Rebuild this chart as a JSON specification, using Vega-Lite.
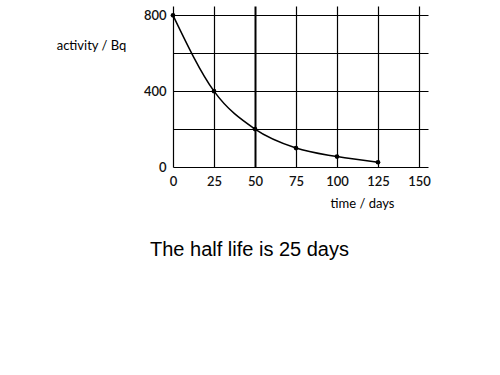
{
  "$schema": "https://vega.github.io/schema/vega-lite/v6.json",
  "width": 255,
  "height": 161,
  "autosize": "none",
  "padding": {"left": 173, "top": 6, "right": 72, "bottom": 208},
  "background": "white",
  "title": {
    "text": "The half life is 25 days",
    "orient": "bottom",
    "anchor": "middle",
    "dx": -51,
    "offset": 30,
    "font": "Liberation Sans",
    "fontSize": 20,
    "fontWeight": "normal",
    "color": "#000000"
  },
  "data": {
    "values": [
      {"time": 0, "activity": 800},
      {"time": 25, "activity": 400},
      {"time": 50, "activity": 200},
      {"time": 75, "activity": 100},
      {"time": 100, "activity": 55},
      {"time": 125, "activity": 25}
    ]
  },
  "config": {
    "view": {"stroke": null},
    "axis": {"labelFont": "Lato", "titleFont": "Lato"}
  },
  "encoding": {
    "x": {
      "field": "time",
      "type": "quantitative",
      "scale": {"domain": [0, 155.5], "nice": false, "zero": false},
      "axis": {
        "values": [0, 25, 50, 75, 100, 125, 150],
        "grid": true,
        "gridColor": "#000000",
        "gridOpacity": 1,
        "gridWidth": {"condition": {"test": "datum.value == 50", "value": 2}, "value": 1.2},
        "domain": false,
        "ticks": false,
        "labelPadding": 8,
        "labelFontSize": 13,
        "labelFontWeight": 600,
        "labelColor": "#111111",
        "labelFlush": false,
        "title": "time / days",
        "titleFontSize": 13,
        "titleFontWeight": "normal",
        "titleColor": "#000000",
        "titleX": 189,
        "titleY": 36,
        "titleAlign": "center",
        "titleBaseline": "middle"
      }
    },
    "y": {
      "field": "activity",
      "type": "quantitative",
      "scale": {"domain": [0, 849], "nice": false},
      "axis": {
        "values": [0, 200, 400, 600, 800],
        "labelExpr": "datum.value % 400 == 0 ? datum.label : ''",
        "grid": true,
        "gridColor": "#000000",
        "gridOpacity": 1,
        "gridWidth": 1.2,
        "domain": false,
        "ticks": false,
        "labelPadding": 7,
        "labelFontSize": 13,
        "labelFontWeight": 600,
        "labelColor": "#111111",
        "title": "activity / Bq",
        "titleAngle": 0,
        "titleFontSize": 13,
        "titleFontWeight": "normal",
        "titleColor": "#000000",
        "titleX": -82,
        "titleY": 39,
        "titleAlign": "center",
        "titleBaseline": "middle"
      }
    }
  },
  "layer": [
    {"mark": {"type": "line", "interpolate": "monotone", "color": "#000000", "strokeWidth": 1.5}},
    {"mark": {"type": "circle", "color": "#000000", "opacity": 1, "size": 22}}
  ]
}
